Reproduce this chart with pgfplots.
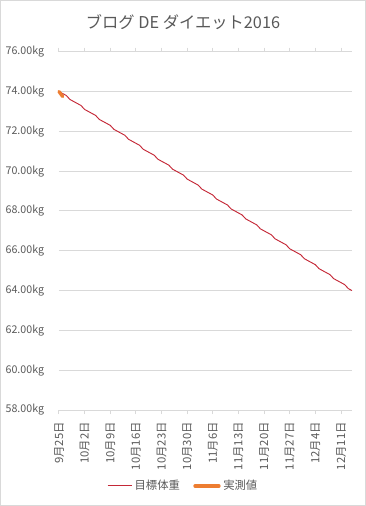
\documentclass[border=0pt]{standalone}
\usepackage{pgfplots}
\pgfplotsset{compat=1.18}
\usepackage{fontspec}
\setmainfont{Noto Sans CJK JP}
\definecolor{txt}{RGB}{89,89,89}
\definecolor{gridc}{RGB}{217,217,217}
\definecolor{target}{RGB}{196,40,55}
\definecolor{actual}{RGB}{237,125,49}
\begin{document}
\begin{tikzpicture}
\path[use as bounding box] (-44.25pt,-72pt) rectangle (230.25pt,307.5pt);
\draw[gridc, line width=0.75pt] (-43.875pt,-71.625pt) rectangle (229.875pt,307.125pt);
\node[txt, font=\fontsize{12.2}{14}\selectfont] at (93pt,291pt) {ブログ DE ダイエット2016};
\begin{axis}[
  scale only axis,
  width=219.75pt, height=268.7pt,
  xmin=0, xmax=80, ymin=58, ymax=76,
  clip=false,
  axis line style={draw=none},
  xtick={0,7,14,21,28,35,42,49,56,63,70,77},
  xticklabels={9月25日,10月2日,10月9日,10月16日,10月23日,10月30日,11月6日,11月13日,11月20日,11月27日,12月4日,12月11日},
  ytick={58,60,62,64,66,68,70,72,74,76},
  yticklabels={58.00kg,60.00kg,62.00kg,64.00kg,66.00kg,68.00kg,70.00kg,72.00kg,74.00kg,76.00kg},
  /pgf/number format/assume math mode=true,
  ymajorgrids, xmajorgrids=false,
  y grid style={color=gridc, line width=0.75pt},
  major y tick style={draw=none},
  major x tick style={color=gridc, line width=0.75pt},
  tick align=outside,
  major tick length=3pt,
  xticklabel style={rotate=90, anchor=east, inner sep=0pt, font=\fontsize{8.5}{9}\selectfont, text=txt},
  yticklabel style={anchor=east, inner sep=0pt, font=\fontsize{8}{9}\selectfont, text=txt},
  xticklabel shift=6pt,
  yticklabel shift=8pt,
  legend columns=2,
  legend style={at={(0.425,-0.212)}, anchor=center, draw=none, fill=none,
    font=\fontsize{8.5}{10}\selectfont, text=txt,
    /tikz/every even column/.append style={column sep=8pt}},
  legend image code/.code={\draw[#1] (0pt,0pt) -- (18pt,0pt);},
]
\draw[gridc, line width=0.75pt] (axis cs:0,58) -- (axis cs:80,58);
\addplot[target, line width=0.7pt, mark=none] coordinates {
(0,74.0)(1,73.9)(2,73.8)(3,73.6)(4,73.5)(5,73.4)(6,73.3)(7,73.1)(8,73.0)(9,72.9)
(10,72.8)(11,72.6)(12,72.5)(13,72.4)(14,72.3)(15,72.1)(16,72.0)(17,71.9)(18,71.8)(19,71.6)
(20,71.5)(21,71.4)(22,71.3)(23,71.1)(24,71.0)(25,70.9)(26,70.8)(27,70.6)(28,70.5)(29,70.4)
(30,70.3)(31,70.1)(32,70.0)(33,69.9)(34,69.8)(35,69.6)(36,69.5)(37,69.4)(38,69.3)(39,69.1)
(40,69.0)(41,68.9)(42,68.8)(43,68.6)(44,68.5)(45,68.4)(46,68.3)(47,68.1)(48,68.0)(49,67.9)
(50,67.8)(51,67.6)(52,67.5)(53,67.4)(54,67.3)(55,67.1)(56,67.0)(57,66.9)(58,66.8)(59,66.6)
(60,66.5)(61,66.4)(62,66.3)(63,66.1)(64,66.0)(65,65.9)(66,65.8)(67,65.6)(68,65.5)(69,65.4)
(70,65.3)(71,65.1)(72,65.0)(73,64.9)(74,64.8)(75,64.6)(76,64.5)(77,64.4)(78,64.3)(79,64.1)
(80,64.0)
};
\addlegendentry{目標体重}
\addplot[actual, line width=2.5pt, line cap=round, mark=none] coordinates {(0,74.0)(1,73.75)};
\addlegendentry{実測値}
\end{axis}
\end{tikzpicture}
\end{document}
